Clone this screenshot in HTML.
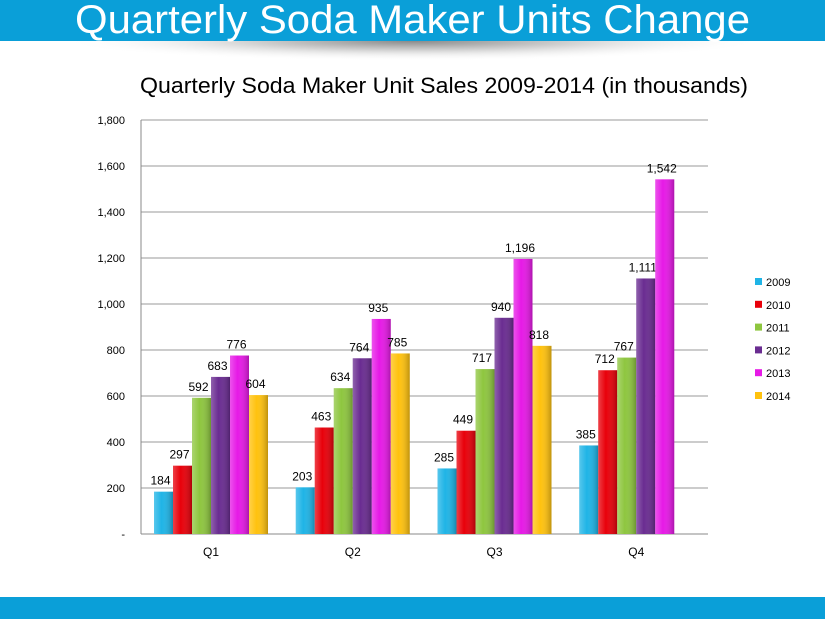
<!DOCTYPE html>
<html><head><meta charset="utf-8"><style>
body{margin:0;width:825px;height:619px;overflow:hidden;background:#fff;font-family:"Liberation Sans",sans-serif}
</style></head><body>
<svg width="825" height="619">
<defs>
<radialGradient id="sh" cx="50%" cy="0%" r="50%">
<stop offset="0" stop-color="#8a8a8a"/><stop offset="0.5" stop-color="#d8d8d8"/><stop offset="1" stop-color="#fff" stop-opacity="0"/></radialGradient>
<linearGradient id="gl" x1="0" x2="1"><stop offset="0" stop-color="#fff" stop-opacity="0.25"/><stop offset="0.4" stop-color="#fff" stop-opacity="0"/><stop offset="1" stop-color="#000" stop-opacity="0.25"/></linearGradient>
</defs>
<rect x="60" y="41" width="705" height="40" fill="url(#sh)"/>
<rect x="0" y="0" width="825" height="41" fill="#0a9fd8"/>
<text x="75" y="33" font-size="40" fill="#fff" textLength="675" lengthAdjust="spacingAndGlyphs">Quarterly Soda Maker Units  Change</text>
<rect x="0" y="597" width="825" height="22" fill="#0a9fd8"/>
<text x="140" y="93" font-size="22" fill="#000" textLength="608" lengthAdjust="spacingAndGlyphs">Quarterly Soda Maker Unit Sales  2009-2014 (in thousands)</text>
<g id="grid"></g><g id="bars"></g><g id="legend"></g>
</svg>
<script>
const categories=["Q1","Q2","Q3","Q4"];
const seriesNames=["2009","2010","2011","2012","2013","2014"];
const s2009=[184,203,285,385];
const s2010=[297,463,449,712];
const s2011=[592,634,717,767];
const s2012=[683,764,940,1111];
const s2013=[776,935,1196,1542];
const s2014=[604,785,818,null];
const tickValues=[0,200,400,600,800,1000,1200,1400,1600,1800];
const tickLabels=["-","200","400","600","800","1,000","1,200","1,400","1,600","1,800"];
const colors=["#1fb4e6","#e8000a","#8ec63f","#6a2c91","#e619e6","#ffc20e"];
const series=[s2009,s2010,s2011,s2012,s2013,s2014];
const NS="http://www.w3.org/2000/svg";
const L=141,R=708,T=120,B=534,maxV=1800;
const y=v=>B-(v/maxV)*(B-T);
const catW=(R-L)/categories.length;
const barW=19;
const x=(c,s)=>L+13+c*catW+s*barW;
function mk(t,a,p){const e=document.createElementNS(NS,t);for(const k in a)e.setAttribute(k,a[k]);p.appendChild(e);return e;}
const g=document.getElementById('grid');
tickValues.forEach((v,i)=>{
 const ln=mk('line',{x1:L,x2:R,y1:y(v),y2:y(v),stroke:i==0?'#888':'#999','stroke-width':1},g);
 
 
 const t=mk('text',{x:125,y:y(v)+4,'font-size':11,'text-anchor':'end'},g);t.textContent=tickLabels[i];
 
 
});
const ax=mk('line',{x1:L,x2:L,y1:T,y2:B,stroke:'#888'},g);


categories.forEach((c,i)=>{
 const t=mk('text',{x:L+13+i*catW+57,y:B+22,'font-size':12,'text-anchor':'middle'},g);t.textContent=c;
 
 
});
const bg=document.getElementById('bars');
series.forEach((arr,s)=>{arr.forEach((v,c)=>{
 if(v==null)return;
 const bx=x(c,s),by=y(v);
 const r=mk('rect',{x:bx,y:by,width:barW,height:B-by,fill:colors[s]},bg);
 
 
 const o=mk('rect',{x:bx,y:by,width:barW,height:B-by,fill:'url(#gl)'},bg);
 
 
 const t=mk('text',{x:bx+barW/2-3,y:by-7,'font-size':12,'text-anchor':'middle'},bg);
 t.textContent=v.toLocaleString('en-US');
 
 
});});
const lg=document.getElementById('legend');
seriesNames.forEach((n,i)=>{
 const yy=282+i*22.8;
 const r=mk('rect',{x:755,y:yy-4,width:7,height:7,fill:colors[i]},lg);
 
 
 const t=mk('text',{x:766,y:yy+4,'font-size':11},lg);t.textContent=n;
 
 
});
</script>
</body></html>
